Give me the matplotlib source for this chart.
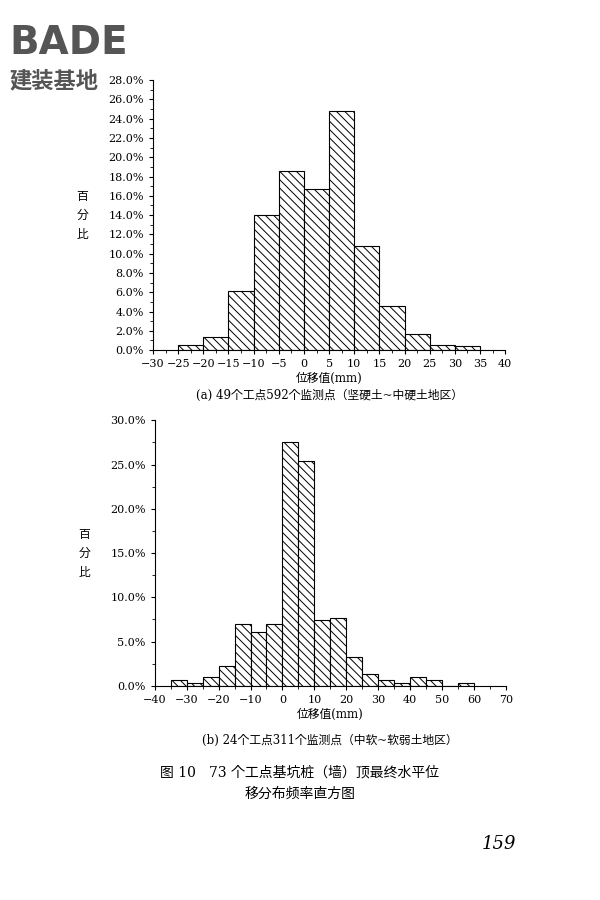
import matplotlib
matplotlib.use("Agg")
import matplotlib.pyplot as plt
from matplotlib.ticker import PercentFormatter, MultipleLocator

plt.rcParams['font.family'] = ['DejaVu Serif', 'Noto Sans CJK JP', 'Noto Sans CJK SC']
plt.rcParams['hatch.linewidth'] = 0.7

bins_a = [-25, -20, -15, -10, -5, 0, 5, 10, 15, 20, 25, 30]
vals_a = [0.5, 1.4, 6.1, 14.0, 18.6, 16.7, 24.8, 10.8, 4.6, 1.7, 0.5, 0.4]
bins_b = [-35, -30, -25, -20, -15, -10, -5, 0, 5, 10, 15, 20, 25, 30, 35, 40, 45, 50, 55]
vals_b = [0.65, 0.3, 1.0, 2.2, 7.0, 6.1, 7.0, 27.6, 25.4, 7.4, 7.7, 3.2, 1.3, 0.65, 0.3, 1.0, 0.65, 0.0, 0.35]
xlabel = "位移值(mm)"
cap_a = "(a) 49个工点592个监测点（坚硬土~中硬土地区）"
cap_b = "(b) 24个工点311个监测点（中软~软弱土地区）"

fig = plt.figure(figsize=(6, 9), dpi=100)

def draw(rect, bins, vals, xlim, ylim, ymaj, ymin, xmaj, cap, capy):
    ax = fig.add_axes(rect)
    ax.bar(bins, vals, width=5, align='edge', color='white', edgecolor='black',
           hatch='\\\\\\\\', linewidth=0.8)
    ax.set_xlim(*xlim); ax.set_ylim(*ylim)
    for s in ['top', 'right']:
        ax.spines[s].set_visible(False)
    ax.yaxis.set_major_locator(MultipleLocator(ymaj))
    ax.yaxis.set_minor_locator(MultipleLocator(ymin))
    ax.xaxis.set_major_locator(MultipleLocator(xmaj))
    ax.xaxis.set_minor_locator(MultipleLocator(xmaj / 2))
    ax.yaxis.set_major_formatter(PercentFormatter(decimals=1))
    ax.tick_params(labelsize=8, length=3)
    ax.tick_params(which='minor', length=2)
    ax.set_xlabel(xlabel, fontsize=8.5, labelpad=2)
    ax.text(-0.2, 0.5, "百\n分\n比", transform=ax.transAxes, fontsize=8.5,
            ha='center', va='center', linespacing=1.6)
    ax.text(0.5, capy, cap, transform=ax.transAxes, fontsize=8.5, ha='center')
    return ax

draw([0.255, 0.611, 0.587, 0.30], bins_a, vals_a, (-30, 40), (0, 28), 2, 1, 5, cap_a, -0.18)
draw([0.258, 0.238, 0.585, 0.295], bins_b, vals_b, (-40, 70), (0, 30), 5, 2.5, 10, cap_b, -0.22)

fig.text(0.015, 0.94, "BADE", fontsize=28, fontweight='bold', color='#555555', fontfamily='DejaVu Sans')
fig.text(0.015, 0.903, "建装基地", fontsize=16, fontweight='bold', color='#555555')
fig.text(0.5, 0.137, "图 10   73 个工点基坑桩（墙）顶最终水平位", fontsize=10, ha='center')
fig.text(0.5, 0.113, "移分布频率直方图", fontsize=10, ha='center')
fig.text(0.86, 0.057, "159", fontsize=13, style='italic', ha='right')

fig.savefig("out.png", dpi=100)
